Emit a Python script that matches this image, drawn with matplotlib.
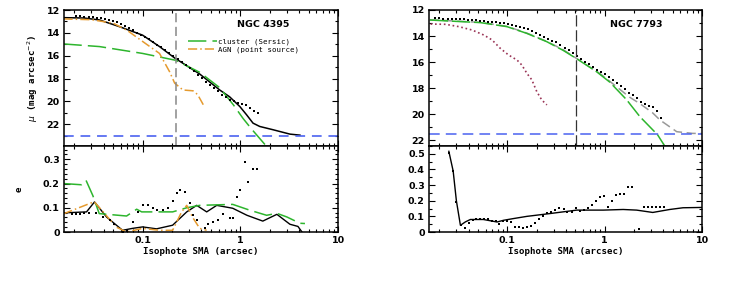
import numpy as np
import matplotlib
matplotlib.use('Agg')
import matplotlib.pyplot as plt
from matplotlib.ticker import MultipleLocator, LogLocator, NullFormatter, FixedLocator, FixedFormatter

# ---------------- NGC 4395 ----------------
# surface brightness profile (data points)
n4395_r = [0.0210, 0.0231, 0.0254, 0.0280, 0.0308, 0.0338, 0.0372, 0.0409, 0.0450, 0.0495,
           0.0545, 0.0600, 0.0660, 0.0726, 0.0798, 0.0878, 0.0966, 0.106, 0.117, 0.129,
           0.141, 0.156, 0.171, 0.188, 0.207, 0.228, 0.251, 0.276, 0.303, 0.334,
           0.367, 0.404, 0.444, 0.489, 0.538, 0.591, 0.650, 0.716, 0.787, 0.866,
           0.953, 1.05, 1.15, 1.27, 1.39, 1.53]
n4395_mu = [12.55, 12.56, 12.58, 12.60, 12.63, 12.66, 12.70, 12.76, 12.85, 12.95,
            13.06, 13.20, 13.38, 13.58, 13.78, 13.98, 14.18, 14.38, 14.58, 14.80,
            15.03, 15.28, 15.52, 15.78, 16.03, 16.28, 16.52, 16.78, 17.05, 17.35,
            17.68, 17.98, 18.30, 18.55, 18.85, 19.12, 19.40, 19.62, 19.85, 20.00,
            20.10, 20.22, 20.35, 20.55, 20.80, 21.05]
# total model
n4395_tot_r = [0.0155, 0.025, 0.0362, 0.0581, 0.1, 0.149, 0.213, 0.384, 0.616, 0.779,
               0.99, 1.16, 1.35, 1.58, 2.17, 3.22, 4.08]
n4395_tot_mu = [12.67, 12.70, 12.87, 13.46, 14.20, 15.20, 16.20, 17.60, 19.00, 19.60,
                20.45, 21.17, 21.90, 22.19, 22.48, 22.86, 22.95]
# cluster (Sersic)
n4395_ser_r = [0.0155, 0.0362, 0.1, 0.218, 0.384, 0.616, 0.85, 1.07, 1.3, 1.8, 2.0]
n4395_ser_mu = [14.97, 15.20, 15.80, 16.40, 17.45, 18.80, 20.30, 21.50, 22.40, 23.80, 24.20]
# AGN (point source)
n4395_agn_r = [0.0155, 0.03, 0.05, 0.07, 0.1, 0.149, 0.189, 0.213, 0.259, 0.328, 0.366, 0.422]
n4395_agn_mu = [12.78, 12.85, 13.15, 13.80, 14.75, 15.80, 17.40, 18.40, 19.00, 19.07, 19.40, 20.35]
n4395_sky = 23.0
n4395_rlim = 0.219

# ellipticity
n4395_e_r = [0.0191, 0.0210, 0.0231, 0.0254, 0.0280, 0.0337, 0.039, 0.0459, 0.0516, 0.0624,
             0.070, 0.079, 0.0889, 0.1, 0.1125, 0.1266, 0.142, 0.160, 0.180, 0.203,
             0.223, 0.239, 0.270, 0.303, 0.326, 0.358, 0.432, 0.464, 0.521, 0.587,
             0.661, 0.779, 0.837, 0.922, 0.99, 1.11, 1.19, 1.34, 1.47]
n4395_e = [0.075, 0.075, 0.076, 0.078, 0.080, 0.080, 0.060, 0.048, 0.035, 0.0,
           0.005, 0.040, 0.083, 0.110, 0.110, 0.098, 0.090, 0.090, 0.100, 0.128,
           0.161, 0.175, 0.164, 0.120, 0.069, 0.048, 0.015, 0.035, 0.041, 0.048,
           0.073, 0.056, 0.056, 0.145, 0.172, 0.289, 0.207, 0.262, 0.262]
n4395_etot_r = [0.0155, 0.0267, 0.0322, 0.0428, 0.0624, 0.079, 0.1, 0.139, 0.203, 0.283,
                0.358, 0.453, 0.574, 0.837, 1.17, 1.70, 2.37, 3.22, 3.89, 4.28]
n4395_etot = [0.079, 0.083, 0.124, 0.062, 0.007, 0.015, 0.021, 0.013, 0.028, 0.083,
              0.110, 0.083, 0.110, 0.098, 0.069, 0.045, 0.073, 0.032, 0.023, 0.0]
n4395_eser_r = [0.0155, 0.0237, 0.0264, 0.031, 0.036, 0.0686, 0.087, 0.098, 0.203, 0.283,
                0.384, 0.837, 1.25, 1.86, 2.37, 3.0, 4.08, 4.59]
n4395_eser = [0.200, 0.195, 0.213, 0.150, 0.076, 0.066, 0.094, 0.083, 0.083, 0.100,
              0.110, 0.114, 0.090, 0.069, 0.077, 0.062, 0.036, 0.035]
n4395_eagn_r = [0.0155, 0.032, 0.054, 0.0686, 0.1, 0.149, 0.203, 0.251, 0.283, 0.326, 0.384, 0.453]
n4395_eagn = [0.075, 0.125, 0.020, 0.0, 0.015, 0.007, 0.007, 0.083, 0.110, 0.060, 0.015, 0.007]

# ---------------- NGC 7793 ----------------
n7793_r = [0.0183, 0.0201, 0.0221, 0.0244, 0.0268, 0.0295, 0.0324, 0.0357, 0.0392, 0.0432,
           0.0475, 0.0522, 0.0575, 0.0632, 0.0695, 0.0765, 0.0841, 0.0925, 0.102, 0.112,
           0.123, 0.136, 0.149, 0.164, 0.181, 0.199, 0.219, 0.241, 0.265, 0.291,
           0.320, 0.352, 0.387, 0.426, 0.469, 0.515, 0.567, 0.624, 0.686, 0.755,
           0.830, 0.913, 1.00, 1.10, 1.21, 1.33, 1.47, 1.61, 1.77, 1.95,
           2.15, 2.36, 2.60, 2.86, 3.14, 3.46, 3.80]
n7793_mu = [12.64, 12.65, 12.66, 12.67, 12.68, 12.70, 12.71, 12.73, 12.75, 12.77,
            12.80, 12.83, 12.86, 12.89, 12.92, 12.95, 12.98, 13.02, 13.07, 13.14,
            13.22, 13.30, 13.38, 13.48, 13.62, 13.78, 13.95, 14.10, 14.22, 14.35,
            14.48, 14.68, 14.90, 15.10, 15.30, 15.55, 15.78, 15.98, 16.18, 16.42,
            16.60, 16.80, 16.95, 17.15, 17.40, 17.62, 17.85, 18.10, 18.35, 18.55,
            18.75, 19.05, 19.20, 19.35, 19.45, 19.80, 20.30]
n7793_tot_r = [0.016, 0.0529, 0.0993, 0.159, 0.255, 0.374, 0.6, 0.9, 1.3, 1.8, 2.3, 3.1, 3.7, 5.5, 8.0, 10.0]
n7793_tot_mu = [12.75, 12.95, 13.26, 13.78, 14.42, 15.05, 16.05, 16.90, 17.85, 18.70,
                19.20, 19.90, 20.46, 21.36, 21.49, 21.50]
n7793_ser_r = [0.016, 0.0529, 0.0993, 0.159, 0.255, 0.374, 0.517, 0.828, 1.13, 1.68, 2.3, 3.5, 4.14, 4.6]
n7793_ser_mu = [12.77, 12.97, 13.28, 13.80, 14.44, 15.10, 15.75, 16.75, 17.55, 18.90,
                20.20, 21.60, 22.46, 23.00]
n7793_psf_r = [0.0163, 0.0232, 0.0318, 0.0435, 0.0572, 0.0697, 0.0848, 0.103, 0.126, 0.141,
               0.159, 0.179, 0.201, 0.226, 0.255]
n7793_psf_mu = [13.08, 13.10, 13.28, 13.54, 13.92, 14.30, 14.95, 15.46, 15.85, 16.23,
                16.87, 17.38, 18.28, 18.92, 19.30]
n7793_sky = 21.55
n7793_rlim = 0.505

n7793_e_r = [0.0251, 0.0278, 0.0300, 0.0335, 0.0372, 0.0402, 0.044, 0.048, 0.053, 0.058,
             0.063, 0.069, 0.076, 0.083, 0.091, 0.100, 0.110, 0.121, 0.133, 0.146,
             0.160, 0.176, 0.194, 0.213, 0.235, 0.258, 0.284, 0.312, 0.343, 0.378,
             0.415, 0.457, 0.502, 0.553, 0.608, 0.669, 0.736, 0.809, 0.890, 0.979,
             1.08, 1.18, 1.30, 1.43, 1.58, 1.73, 1.91, 2.25, 2.54, 2.79,
             3.07, 3.38, 3.72, 4.09]
n7793_e = [0.505, 0.390, 0.190, 0.043, 0.025, 0.058, 0.075, 0.082, 0.085, 0.085,
           0.080, 0.070, 0.070, 0.050, 0.070, 0.070, 0.065, 0.030, 0.035, 0.028,
           0.030, 0.040, 0.060, 0.080, 0.100, 0.120, 0.130, 0.140, 0.155, 0.150,
           0.125, 0.130, 0.155, 0.135, 0.140, 0.155, 0.175, 0.200, 0.225, 0.230,
           0.160, 0.200, 0.235, 0.240, 0.240, 0.290, 0.290, 0.017, 0.157, 0.157,
           0.157, 0.157, 0.157, 0.157]
n7793_etot_r = [0.0251, 0.0278, 0.030, 0.033, 0.0372, 0.0418, 0.0568, 0.0785, 0.0917, 0.116,
                0.159, 0.275, 0.517, 0.968, 1.55, 2.13, 3.12, 4.66, 6.38, 9.84]
n7793_etot = [0.516, 0.390, 0.200, 0.043, 0.065, 0.080, 0.080, 0.064, 0.075, 0.086,
              0.100, 0.118, 0.140, 0.140, 0.144, 0.140, 0.125, 0.144, 0.155, 0.157]

xticks = [0.1, 1, 10]
xticklabels = ['0.1', '1', '10']

W, H = 747, 298
fig = plt.figure(figsize=(W / 100, H / 100), dpi=100)

def px(x0, y0, x1, y1):
    return [x0 / W, 1 - y1 / H, (x1 - x0) / W, (y1 - y0) / H]

ax1 = fig.add_axes(px(64, 10, 338, 146))
ax2 = fig.add_axes(px(64, 146, 338, 232))
ax3 = fig.add_axes(px(429, 10, 702, 146))
ax4 = fig.add_axes(px(429, 146, 702, 232))

green = '#2db52d'
orange = '#e59a2e'
blue = '#4a62f0'
tickfont = dict(family='DejaVu Sans', weight='bold', size=6.8)
mono = 'DejaVu Sans Mono'
labsize = 6.6

for ax in (ax1, ax2, ax3, ax4):
    ax.set_xscale('log')
    ax.set_xlim(0.0157, 10)
    ax.xaxis.set_major_locator(FixedLocator(xticks))
    ax.xaxis.set_minor_locator(LogLocator(base=10, subs=np.arange(2, 10)))
    ax.xaxis.set_minor_formatter(NullFormatter())
    ax.tick_params(which='both', direction='in', top=True, right=True, width=0.8)
    ax.tick_params(which='major', length=4.5)
    ax.tick_params(which='minor', length=2.2)
    for s in ax.spines.values():
        s.set_linewidth(1.1)

for ax in (ax1, ax3):
    ax.xaxis.set_major_formatter(NullFormatter())
for ax in (ax2, ax4):
    ax.xaxis.set_major_formatter(FixedFormatter(xticklabels))
    ax.set_xlabel('Isophote SMA (arcsec)', family=mono, weight='bold', size=labsize, labelpad=1)

# NGC 4395 profile
ax1.plot(n4395_tot_r, n4395_tot_mu, color='k', lw=1.1)
ax1.plot(n4395_ser_r, n4395_ser_mu, color=green, lw=1.1, dashes=(12, 4), label='cluster (Sersic)')
ax1.plot(n4395_agn_r, n4395_agn_mu, color=orange, lw=1.1, dashes=(6, 2, 1, 2), label='AGN (point source)')
ax1.plot(n4395_r, n4395_mu, 's', color='k', ms=1.6, mew=0)
ax1.axhline(n4395_sky, color=blue, lw=1.4, dashes=(5, 3.5), alpha=0.85)
ax1.axvline(n4395_rlim, color='#888888', lw=1.1, dashes=(6, 3))
ax1.set_ylim(23.9, 12)
ax1.yaxis.set_major_locator(MultipleLocator(2))
ax1.yaxis.set_minor_locator(MultipleLocator(1))
ax1.set_ylabel(r'$\mu$ (mag arcsec$^{-2}$)', family=mono, weight='bold', size=labsize, labelpad=5)
ax1.text(0.726, 0.895, 'NGC 4395', transform=ax1.transAxes, ha='center', va='center', **tickfont)
leg = ax1.legend(loc='upper left', bbox_to_anchor=(0.44, 0.815), frameon=False,
                 prop=dict(family=mono, size=5.3), handlelength=4.0, handletextpad=0.2,
                 labelspacing=0.2, borderaxespad=0.0)

# NGC 4395 ellipticity
ax2.plot(n4395_etot_r, n4395_etot, color='k', lw=1.0)
ax2.plot(n4395_eser_r, n4395_eser, color=green, lw=1.1, dashes=(12, 4))
ax2.plot(n4395_eagn_r, n4395_eagn, color=orange, lw=1.1, dashes=(6, 2, 1, 2))
ax2.plot(n4395_e_r, n4395_e, 's', color='k', ms=1.6, mew=0)
ax2.set_ylim(0, 0.355)
ax2.yaxis.set_major_locator(FixedLocator([0, 0.1, 0.2, 0.3]))
ax2.yaxis.set_major_formatter(FixedFormatter(['0', '0.1', '0.2', '0.3']))
ax2.yaxis.set_minor_locator(MultipleLocator(0.02))
ax2.set_ylabel('e', family=mono, weight='bold', size=labsize, labelpad=14)

# NGC 7793 profile
ax3.plot(n7793_tot_r, n7793_tot_mu, color='#999999', lw=1.1, dashes=(6, 3))
ax3.plot(n7793_ser_r, n7793_ser_mu, color=green, lw=1.1, dashes=(12, 2.5))
ax3.plot(n7793_psf_r, n7793_psf_mu, ':', color='#993355', lw=1.2)
ax3.plot(n7793_r, n7793_mu, 's', color='k', ms=1.6, mew=0)
ax3.axhline(n7793_sky, color=blue, lw=1.1, dashes=(7, 4))
ax3.axvline(n7793_rlim, color='#333333', lw=0.9, dashes=(9, 3))
ax3.set_ylim(22.46, 12)
ax3.yaxis.set_major_locator(MultipleLocator(2))
ax3.yaxis.set_minor_locator(MultipleLocator(1))
ax3.text(0.76, 0.895, 'NGC 7793', transform=ax3.transAxes, ha='center', va='center', **tickfont)

# NGC 7793 ellipticity
ax4.plot(n7793_etot_r, n7793_etot, color='k', lw=1.0)
ax4.plot(n7793_e_r, n7793_e, 's', color='k', ms=1.6, mew=0)
ax4.set_ylim(0, 0.55)
ax4.yaxis.set_major_locator(FixedLocator([0, 0.1, 0.2, 0.3, 0.4, 0.5]))
ax4.yaxis.set_major_formatter(FixedFormatter(['0', '0.1', '0.2', '0.3', '0.4', '0.5']))
ax4.yaxis.set_minor_locator(MultipleLocator(0.05))

for ax in (ax1, ax2, ax3, ax4):
    for lab in ax.get_yticklabels() + ax.get_xticklabels():
        lab.set_fontproperties(tickfont)
    ax.tick_params(which='both', pad=3)

fig.savefig('out.png', dpi=100)
